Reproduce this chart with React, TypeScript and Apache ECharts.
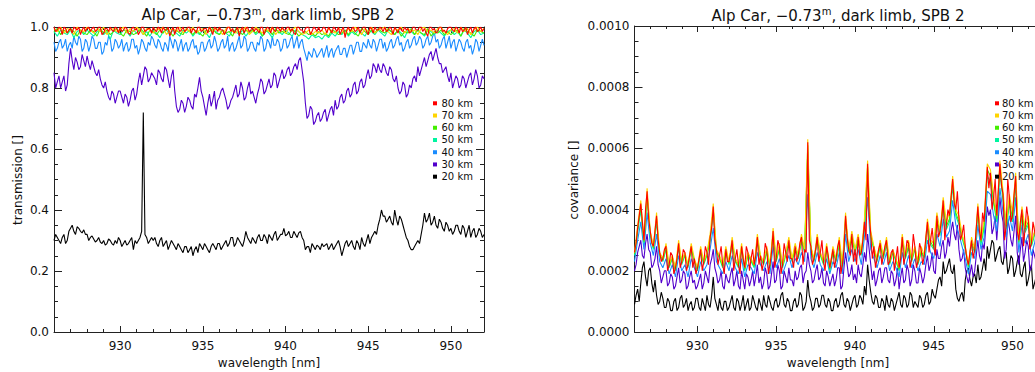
import React, { useEffect, useRef } from "react";
import * as echarts from "echarts";

// ---------- data ----------
// wavelength sampling grids [nm]
const WL_START = 926;
const wavelength = Array.from({ length: 131 }, (_, i) => +(WL_START + i * 0.2).toFixed(1)); // 926.0, 926.2, ...
const wavelengthFine = Array.from({ length: 261 }, (_, i) => +(WL_START + i * 0.1).toFixed(1)); // 926.0, 926.1, ...

const altitudes = ["80 km", "70 km", "60 km", "50 km", "40 km", "30 km", "20 km"];
const altColors = ["#ff0000", "#ffd400", "#44ee00", "#00f5a0", "#1a8cff", "#5200cc", "#000000"];

const xMajorTicks = [930, 935, 940, 945, 950];

// transmission [] at 926.0, 926.2, ... (even samples)
const trans80 = [
  1.0, 0.99, 0.995, 1.0, 0.98, 0.995, 1.0, 0.99, 0.975, 1.0,
  0.995, 0.985, 1.0, 0.99, 1.0, 0.98, 0.995, 1.0, 0.985, 0.995,
  1.0, 0.99, 0.995, 0.975, 1.0, 0.995, 0.985, 1.0, 0.99, 0.995,
  1.0, 0.985, 0.995, 1.0, 0.99, 0.97, 1.0, 0.995, 0.985, 1.0,
  0.99, 1.0, 0.995, 0.98, 1.0, 0.99, 0.995, 1.0, 0.975, 0.995,
  1.0, 0.99, 0.985, 1.0, 0.995, 0.99, 0.97, 1.0, 0.995, 0.985,
  1.0, 0.995, 0.98, 1.0, 0.99, 0.995, 1.0, 0.985, 0.995, 1.0,
  0.99, 1.0, 0.995, 0.975, 1.0, 0.99, 0.995, 1.0, 0.985, 0.995,
  1.0, 0.99, 0.995, 1.0, 0.98, 0.995, 1.0, 0.99, 0.965, 1.0,
  0.995, 0.985, 1.0, 0.99, 1.0, 0.975, 0.995, 1.0, 0.99, 0.995,
  1.0, 0.99, 0.995, 1.0, 0.98, 0.99, 1.0, 0.995, 0.985, 1.0,
  0.99, 1.0, 0.995, 0.97, 1.0, 0.995, 0.985, 1.0, 0.99, 0.995,
  1.0, 0.985, 0.995, 1.0, 0.99, 0.975, 1.0, 0.995, 0.985, 1.0,
  0.995,
];
// transmission [] at 926.1, 926.3, ... (odd samples)
const trans80Odd = [
  0.985, 1.0, 0.975, 0.995, 0.99, 0.98, 0.995, 1.0, 0.99, 0.985,
  1.0, 0.995, 0.985, 1.0, 0.975, 0.995, 0.985, 0.99, 1.0, 0.98,
  0.985, 1.0, 0.98, 0.995, 0.99, 0.975, 1.0, 0.985, 0.995, 0.98,
  0.99, 1.0, 0.98, 0.99, 1.0, 0.985, 0.975, 1.0, 0.99, 0.985,
  1.0, 0.98, 0.99, 1.0, 0.985, 0.995, 0.98, 0.99, 1.0, 0.985,
  0.99, 0.975, 1.0, 0.985, 0.98, 1.0, 0.99, 0.98, 1.0, 0.99,
  0.985, 0.99, 1.0, 0.975, 1.0, 0.98, 0.99, 1.0, 0.985, 0.99,
  1.0, 0.985, 0.98, 1.0, 0.99, 0.98, 1.0, 0.975, 1.0, 0.985,
  0.985, 1.0, 0.98, 0.99, 1.0, 0.985, 0.975, 1.0, 0.99, 0.985,
  1.0, 0.99, 0.98, 1.0, 0.985, 1.0, 0.98, 0.99, 1.0, 0.985,
  0.985, 1.0, 0.975, 0.99, 1.0, 0.985, 0.99, 0.98, 1.0, 0.99,
  1.0, 0.985, 0.98, 1.0, 0.99, 0.98, 1.0, 0.985, 0.98, 1.0,
  0.99, 1.0, 0.98, 0.985, 1.0, 0.99, 0.98, 1.0, 0.99, 0.985,
];
const trans70 = [
  0.995, 0.985, 1.0, 0.98, 0.995, 0.99, 0.975, 1.0, 0.99, 0.985,
  1.0, 0.99, 0.98, 0.995, 0.985, 1.0, 0.975, 0.99, 0.995, 0.985,
  0.99, 1.0, 0.98, 0.995, 0.985, 1.0, 0.99, 0.975, 0.995, 0.99,
  0.98, 0.995, 0.99, 1.0, 0.975, 0.99, 0.995, 0.985, 1.0, 0.98,
  0.995, 0.985, 1.0, 0.98, 0.99, 0.995, 0.975, 1.0, 0.985, 0.995,
  0.99, 0.975, 0.995, 1.0, 0.985, 0.98, 0.995, 0.99, 1.0, 0.975,
  0.985, 1.0, 0.99, 0.98, 0.995, 0.985, 1.0, 0.975, 0.99, 0.995,
  0.98, 0.995, 0.99, 1.0, 0.985, 0.975, 0.98, 0.99, 0.975, 0.985,
  0.98, 0.99, 0.975, 0.995, 0.985, 0.98, 0.995, 0.99, 0.975, 0.995,
  0.985, 1.0, 0.99, 0.975, 0.995, 0.985, 1.0, 0.98, 0.99, 0.995,
  1.0, 0.985, 0.975, 0.995, 0.99, 1.0, 0.98, 0.995, 0.985, 0.99,
  0.975, 0.995, 1.0, 0.985, 0.99, 0.98, 0.995, 1.0, 0.985, 0.975,
  0.99, 0.995, 0.98, 1.0, 0.985, 0.995, 0.975, 0.99, 1.0, 0.985,
  0.995,
];
const trans60 = [
  0.985, 0.995, 0.975, 0.99, 0.98, 0.995, 0.985, 0.97, 0.99, 0.98,
  0.975, 0.99, 0.985, 0.97, 0.995, 0.98, 0.99, 0.975, 0.985, 0.995,
  0.98, 0.97, 0.99, 0.985, 0.975, 0.98, 0.995, 0.985, 0.97, 0.99,
  0.985, 0.975, 0.99, 0.98, 0.995, 0.985, 0.97, 0.99, 0.98, 0.975,
  0.995, 0.985, 0.975, 0.99, 0.98, 0.97, 0.99, 0.985, 0.995, 0.98,
  0.975, 0.99, 0.98, 0.985, 0.97, 0.995, 0.985, 0.975, 0.99, 0.98,
  0.99, 0.98, 0.995, 0.97, 0.985, 0.99, 0.975, 0.995, 0.98, 0.985,
  0.98, 0.975, 0.99, 0.985, 0.97, 0.98, 0.985, 0.975, 0.98, 0.97,
  0.985, 0.975, 0.98, 0.97, 0.99, 0.985, 0.975, 0.98, 0.99, 0.975,
  0.99, 0.98, 0.97, 0.995, 0.985, 0.975, 0.99, 0.98, 0.995, 0.985,
  0.98, 0.995, 0.985, 0.975, 0.99, 0.97, 0.985, 0.98, 0.995, 0.975,
  0.99, 0.98, 0.975, 0.995, 0.97, 0.985, 0.98, 0.99, 0.975, 0.985,
  0.975, 0.985, 0.99, 0.97, 0.995, 0.985, 0.98, 0.97, 0.99, 0.985,
  0.98,
];
const trans50 = [
  0.985, 0.97, 0.99, 0.98, 0.975, 0.99, 0.965, 0.985, 0.99, 0.975,
  0.99, 0.98, 0.97, 0.985, 0.99, 0.975, 0.985, 0.96, 0.99, 0.98,
  0.975, 0.99, 0.985, 0.97, 0.99, 0.98, 0.99, 0.975, 0.985, 0.97,
  0.99, 0.98, 0.965, 0.985, 0.99, 0.975, 0.99, 0.98, 0.97, 0.99,
  0.98, 0.99, 0.97, 0.985, 0.975, 0.99, 0.98, 0.965, 0.99, 0.985,
  0.975, 0.99, 0.98, 0.97, 0.99, 0.985, 0.975, 0.99, 0.97, 0.985,
  0.99, 0.975, 0.985, 0.97, 0.99, 0.98, 0.965, 0.99, 0.985, 0.975,
  0.99, 0.98, 0.97, 0.99, 0.985, 0.975, 0.97, 0.96, 0.975, 0.965,
  0.97, 0.96, 0.975, 0.965, 0.98, 0.97, 0.985, 0.975, 0.99, 0.97,
  0.985, 0.975, 0.99, 0.98, 0.97, 0.99, 0.985, 0.975, 0.99, 0.98,
  0.97, 0.99, 0.985, 0.975, 0.99, 0.98, 0.965, 0.99, 0.985, 0.975,
  0.99, 0.98, 0.97, 0.99, 0.985, 0.975, 0.99, 0.98, 0.97, 0.985,
  0.99, 0.975, 0.985, 0.97, 0.99, 0.98, 0.965, 0.985, 0.99, 0.975,
  0.98,
];
const trans40 = [
  0.95, 0.93, 0.96, 0.94, 0.92, 0.95, 0.97, 0.94, 0.96, 0.93,
  0.95, 0.94, 0.96, 0.93, 0.95, 0.92, 0.94, 0.96, 0.93, 0.95,
  0.94, 0.92, 0.95, 0.93, 0.96, 0.94, 0.93, 0.95, 0.92, 0.94,
  0.96, 0.93, 0.95, 0.92, 0.94, 0.97, 0.93, 0.95, 0.94, 0.92,
  0.95, 0.93, 0.96, 0.94, 0.92, 0.95, 0.93, 0.96, 0.94, 0.95,
  0.93, 0.96, 0.94, 0.92, 0.95, 0.93, 0.97, 0.94, 0.96, 0.93,
  0.95, 0.92, 0.94, 0.96, 0.93, 0.95, 0.97, 0.94, 0.95, 0.93,
  0.96, 0.94, 0.97, 0.95, 0.93, 0.96, 0.91, 0.92, 0.90, 0.92,
  0.91, 0.93, 0.92, 0.90, 0.93, 0.92, 0.94, 0.91, 0.93, 0.92,
  0.94, 0.93, 0.95, 0.92, 0.94, 0.96, 0.93, 0.95, 0.94, 0.96,
  0.95, 0.93, 0.96, 0.94, 0.97, 0.95, 0.93, 0.96, 0.94, 0.97,
  0.95, 0.96, 0.94, 0.97, 0.95, 0.98, 0.96, 0.94, 0.97, 0.95,
  0.93, 0.96, 0.94, 0.95, 0.92, 0.96, 0.94, 0.93, 0.95, 0.94,
  0.94,
];
const trans40Odd = [
  0.92, 0.95, 0.93, 0.96, 0.94, 0.93, 0.95, 0.97, 0.92, 0.96,
  0.92, 0.97, 0.93, 0.95, 0.91, 0.95, 0.97, 0.92, 0.96, 0.93,
  0.96, 0.94, 0.92, 0.96, 0.93, 0.91, 0.96, 0.93, 0.95, 0.97,
  0.94, 0.96, 0.93, 0.95, 0.92, 0.95, 0.96, 0.92, 0.96, 0.94,
  0.92, 0.95, 0.93, 0.91, 0.95, 0.92, 0.95, 0.93, 0.97, 0.92,
  0.95, 0.93, 0.97, 0.94, 0.92, 0.95, 0.93, 0.97, 0.92, 0.95,
  0.93, 0.95, 0.97, 0.92, 0.96, 0.93, 0.94, 0.96, 0.92, 0.96,
  0.93, 0.96, 0.93, 0.97, 0.95, 0.93, 0.89, 0.91, 0.93, 0.90,
  0.92, 0.90, 0.94, 0.92, 0.90, 0.93, 0.91, 0.93, 0.90, 0.94,
  0.91, 0.95, 0.92, 0.95, 0.93, 0.94, 0.96, 0.92, 0.96, 0.93,
  0.92, 0.95, 0.93, 0.96, 0.94, 0.92, 0.95, 0.93, 0.96, 0.94,
  0.97, 0.93, 0.96, 0.94, 0.97, 0.95, 0.93, 0.96, 0.93, 0.97,
  0.95, 0.92, 0.96, 0.93, 0.95, 0.93, 0.91, 0.96, 0.92, 0.96,
];
const trans30 = [
  0.85, 0.82, 0.80, 0.84, 0.81, 0.93, 0.86, 0.885, 0.87, 0.89,
  0.905, 0.86, 0.87, 0.84, 0.83, 0.80, 0.79, 0.76, 0.78, 0.77,
  0.79, 0.75, 0.77, 0.76, 0.80, 0.78, 0.85, 0.84, 0.86, 0.83,
  0.84, 0.81, 0.85, 0.82, 0.86, 0.80, 0.86, 0.74, 0.73, 0.75,
  0.74, 0.76, 0.73, 0.77, 0.835, 0.77, 0.71, 0.78, 0.76, 0.73,
  0.77, 0.80, 0.76, 0.74, 0.77, 0.81, 0.78, 0.80, 0.77, 0.82,
  0.79, 0.75, 0.80, 0.82, 0.79, 0.83, 0.81, 0.84, 0.82, 0.86,
  0.84, 0.87, 0.85, 0.88, 0.89, 0.86, 0.75, 0.71, 0.73, 0.69,
  0.72, 0.70, 0.73, 0.71, 0.74, 0.76, 0.74, 0.78, 0.76, 0.80,
  0.78, 0.82, 0.79, 0.83, 0.81, 0.86, 0.84, 0.87, 0.88, 0.85,
  0.87, 0.84, 0.86, 0.82, 0.80, 0.79, 0.81, 0.78, 0.80, 0.84,
  0.87, 0.86, 0.90, 0.89, 0.92, 0.91, 0.90, 0.88, 0.86, 0.84,
  0.85, 0.82, 0.83, 0.81, 0.83, 0.82, 0.85, 0.83, 0.84, 0.81,
  0.83,
];
const trans30Odd = [
  0.80, 0.84, 0.82, 0.79, 0.88, 0.89, 0.90, 0.86, 0.91, 0.87,
  0.88, 0.89, 0.85, 0.86, 0.81, 0.82, 0.77, 0.79, 0.75, 0.79,
  0.77, 0.78, 0.74, 0.79, 0.76, 0.82, 0.81, 0.87, 0.82, 0.85,
  0.83, 0.86, 0.83, 0.87, 0.83, 0.84, 0.79, 0.72, 0.76, 0.72,
  0.77, 0.74, 0.78, 0.80, 0.79, 0.74, 0.75, 0.74, 0.79, 0.76,
  0.79, 0.78, 0.73, 0.76, 0.79, 0.77, 0.82, 0.76, 0.80, 0.78,
  0.77, 0.78, 0.83, 0.78, 0.81, 0.80, 0.85, 0.80, 0.84, 0.83,
  0.86, 0.84, 0.87, 0.86, 0.90, 0.82, 0.70, 0.74, 0.68, 0.71,
  0.69, 0.72, 0.69, 0.73, 0.71, 0.73, 0.77, 0.75, 0.79, 0.77,
  0.81, 0.78, 0.82, 0.80, 0.84, 0.83, 0.88, 0.85, 0.86, 0.88,
  0.85, 0.87, 0.83, 0.84, 0.78, 0.82, 0.77, 0.81, 0.83, 0.82,
  0.84, 0.88, 0.87, 0.91, 0.89, 0.93, 0.88, 0.85, 0.87, 0.82,
  0.80, 0.84, 0.80, 0.84, 0.80, 0.84, 0.81, 0.86, 0.80, 0.84,
];
const trans20 = [
  0.30, 0.31, 0.29, 0.32, 0.30, 0.34, 0.33, 0.345, 0.33, 0.335,
  0.32, 0.31, 0.305, 0.30, 0.295, 0.30, 0.29, 0.30, 0.285, 0.29,
  0.30, 0.29, 0.285, 0.30, 0.27, 0.29, 0.31, 0.72, 0.31, 0.30,
  0.30, 0.29, 0.30, 0.28, 0.30, 0.285, 0.29, 0.27, 0.28, 0.26,
  0.28, 0.27, 0.25, 0.28, 0.29, 0.27, 0.28, 0.26, 0.29, 0.27,
  0.29, 0.28, 0.30, 0.29, 0.31, 0.29, 0.30, 0.28, 0.33, 0.30,
  0.31, 0.29, 0.32, 0.30, 0.31, 0.32, 0.30, 0.33, 0.31, 0.32,
  0.315, 0.33, 0.31, 0.32, 0.325, 0.31, 0.27, 0.28, 0.29, 0.27,
  0.28, 0.29, 0.285, 0.27, 0.29, 0.28, 0.30, 0.25, 0.29, 0.28,
  0.30, 0.27, 0.29, 0.31, 0.28, 0.32, 0.31, 0.33, 0.35, 0.40,
  0.38, 0.37, 0.36, 0.40, 0.35, 0.37, 0.33, 0.30, 0.27, 0.28,
  0.30, 0.32, 0.39, 0.37, 0.35, 0.38, 0.34, 0.36, 0.33, 0.35,
  0.34, 0.33, 0.35, 0.32, 0.34, 0.33, 0.31, 0.34, 0.32, 0.33,
  0.32,
];
const trans20Odd = [
  0.32, 0.30, 0.31, 0.29, 0.33, 0.35, 0.32, 0.34, 0.325, 0.32,
  0.30, 0.315, 0.295, 0.31, 0.29, 0.285, 0.305, 0.29, 0.30, 0.31,
  0.28, 0.30, 0.29, 0.31, 0.30, 0.30, 0.33, 0.32, 0.29, 0.31,
  0.31, 0.28, 0.31, 0.29, 0.27, 0.30, 0.28, 0.29, 0.27, 0.28,
  0.26, 0.28, 0.27, 0.26, 0.28, 0.29, 0.27, 0.28, 0.28, 0.29,
  0.27, 0.29, 0.28, 0.31, 0.28, 0.31, 0.29, 0.30, 0.31, 0.29,
  0.30, 0.31, 0.30, 0.32, 0.29, 0.31, 0.32, 0.30, 0.32, 0.34,
  0.32, 0.31, 0.33, 0.31, 0.33, 0.30, 0.28, 0.26, 0.28, 0.285,
  0.27, 0.28, 0.29, 0.28, 0.27, 0.29, 0.28, 0.27, 0.30, 0.29,
  0.28, 0.30, 0.27, 0.29, 0.30, 0.29, 0.32, 0.32, 0.37, 0.38,
  0.36, 0.38, 0.35, 0.37, 0.38, 0.35, 0.31, 0.28, 0.27, 0.29,
  0.29, 0.35, 0.36, 0.39, 0.36, 0.35, 0.37, 0.34, 0.36, 0.33,
  0.32, 0.35, 0.33, 0.35, 0.31, 0.35, 0.33, 0.31, 0.34, 0.31,
];

// covariance [], in units of COV_UNIT
const COV_UNIT = 1e-5;
const cov80 = [
  26, 34, 42, 30, 46, 33, 28, 38, 26, 24,
  28, 22, 25, 21, 29, 23, 26, 22, 28, 24,
  21, 27, 23, 26, 31, 41, 27, 25, 22, 27,
  23, 30, 24, 22, 28, 21, 26, 24, 22, 31,
  25, 23, 27, 22, 33, 24, 28, 22, 26, 30,
  24, 28, 25, 31, 27, 62, 28, 24, 31, 26,
  23, 28, 21, 27, 24, 30, 22, 38, 27, 32,
  27, 31, 26, 36, 55, 32, 28, 24, 29, 25,
  30, 23, 27, 24, 21, 31, 25, 29, 24, 28,
  23, 27, 25, 36, 30, 28, 38, 33, 43, 35,
  38, 50, 40, 37, 32, 28, 22, 30, 27, 41,
  30, 36, 54, 52, 44, 38, 55, 45, 35, 44,
  38, 51, 30, 40, 34, 37, 29, 33, 40, 29,
  34,
];
const cov80Odd = [
  29, 38, 36, 40, 37, 29, 33, 30, 23, 27,
  20, 26, 19, 24, 21, 27, 20, 25, 21, 19,
  24, 20, 28, 22, 34, 30, 22, 28, 19, 23,
  26, 20, 27, 19, 24, 28, 20, 27, 25, 22,
  20, 29, 19, 26, 21, 30, 19, 29, 23, 24,
  21, 23, 29, 22, 26, 30, 22, 27, 23, 30,
  20, 25, 24, 21, 28, 19, 27, 31, 25, 23,
  22, 25, 30, 30, 38, 24, 21, 27, 22, 28,
  22, 26, 20, 28, 24, 22, 30, 21, 32, 21,
  29, 22, 31, 26, 34, 25, 31, 37, 30, 40,
  44, 42, 46, 30, 35, 24, 26, 24, 34, 33,
  39, 45, 47, 40, 50, 46, 48, 30, 50, 36,
  45, 33, 36, 28, 41, 27, 36, 30, 34, 36,
];
const cov70 = [
  26, 35, 43, 30, 47, 33, 28, 39, 26, 24,
  29, 22, 25, 21, 30, 23, 26, 22, 29, 24,
  21, 28, 23, 26, 32, 42, 27, 25, 22, 28,
  23, 31, 24, 22, 29, 21, 26, 24, 22, 32,
  25, 23, 28, 22, 34, 24, 29, 22, 26, 31,
  24, 29, 25, 32, 27, 63, 28, 24, 32, 26,
  23, 29, 21, 28, 24, 31, 22, 39, 27, 33,
  27, 32, 26, 37, 56, 33, 28, 24, 30, 25,
  31, 23, 27, 24, 21, 32, 25, 30, 24, 28,
  23, 28, 25, 37, 30, 29, 39, 33, 44, 36,
  39, 51, 40, 38, 32, 28, 22, 31, 27, 42,
  30, 37, 55, 53, 45, 38, 56, 46, 35, 45,
  39, 52, 30, 41, 34, 38, 29, 33, 41, 29,
  34,
];
const cov60 = [
  25.5, 33.5, 41, 29.5, 45, 32.5, 27.5, 37, 25.5, 23.5,
  27.5, 21.5, 24.5, 20.5, 28.5, 22.5, 25.5, 21.5, 27.5, 23.5,
  20.5, 26.5, 22.5, 25.5, 30.5, 40, 26.5, 24.5, 21.5, 26.5,
  22.5, 29.5, 23.5, 21.5, 27.5, 20.5, 25.5, 23.5, 21.5, 30.5,
  24.5, 22.5, 26.5, 21.5, 32.5, 23.5, 27.5, 21.5, 25.5, 29.5,
  23.5, 27.5, 24.5, 30.5, 26.5, 61, 27.5, 23.5, 30.5, 25.5,
  22.5, 27.5, 20.5, 26.5, 23.5, 29.5, 21.5, 37, 26.5, 31.5,
  26.5, 30.5, 25.5, 35, 54, 31.5, 27.5, 23.5, 28.5, 24.5,
  29.5, 22.5, 26.5, 23.5, 20.5, 30.5, 24.5, 28.5, 23.5, 27.5,
  22.5, 26.5, 24.5, 35, 29.5, 27.5, 37, 32.5, 42, 34.5,
  37, 49, 39, 36, 31.5, 27.5, 21.5, 29.5, 26.5, 40,
  29.5, 35, 53, 51, 43, 37, 54, 44, 34.5, 43,
  37, 50, 29.5, 39, 33.5, 36, 28.5, 32.5, 39, 28.5,
  33.5,
];
const cov50 = [
  25, 32.5, 40, 29, 44, 31.5, 27, 36, 25, 23,
  27, 21, 24, 20, 27.5, 22, 25, 21, 27, 23,
  20, 26, 22, 25, 29.5, 39, 26, 24, 21, 26,
  22, 28.5, 23, 21, 27, 20, 25, 23, 21, 29.5,
  24, 22, 26, 21, 31.5, 23, 27, 21, 25, 28.5,
  23, 27, 24, 29.5, 26, 59, 27, 23, 29.5, 25,
  22, 27, 20, 26, 23, 28.5, 21, 36, 26, 30.5,
  26, 29.5, 25, 34, 52, 30.5, 27, 23, 28, 24,
  28.5, 22, 26, 23, 20, 29.5, 24, 27.5, 23, 27,
  22, 26, 24, 34, 28.5, 27, 36, 31.5, 41, 33.5,
  36, 47.5, 38, 35, 30.5, 27, 21, 28.5, 26, 39,
  28.5, 34, 51, 49, 42, 36, 52, 43, 33.5, 42,
  36, 48.5, 29, 38, 32.5, 35, 28, 31.5, 38, 28,
  32.5,
];
const cov40 = [
  23, 30, 36, 27, 39, 29, 25, 32, 23, 21,
  24, 19, 22, 18, 25, 20, 22, 18, 24, 21,
  18, 23, 20, 22, 27, 34, 23, 21, 19, 23,
  20, 25, 21, 19, 24, 18, 22, 21, 19, 26,
  22, 20, 23, 19, 28, 21, 24, 19, 22, 25,
  21, 24, 22, 26, 23, 45, 24, 21, 26, 22,
  20, 24, 19, 23, 21, 26, 19, 32, 23, 27,
  23, 27, 22, 31, 44, 27, 24, 21, 25, 22,
  26, 20, 23, 21, 18, 26, 21, 25, 21, 24,
  20, 23, 22, 30, 26, 24, 32, 28, 37, 31,
  33, 43, 35, 32, 28, 24, 19, 26, 24, 35,
  27, 31, 46, 45, 38, 33, 47, 39, 31, 38,
  33, 44, 26, 35, 29, 32, 25, 29, 35, 26,
  30,
];
const cov30 = [
  20, 26, 30, 24, 32, 26, 22, 28, 20, 18,
  20, 16, 18, 15, 21, 17, 19, 15, 20, 17,
  15, 19, 16, 18, 22, 27, 19, 17, 15, 19,
  16, 21, 17, 15, 20, 14, 18, 17, 15, 22,
  18, 16, 19, 15, 23, 17, 20, 15, 18, 21,
  17, 20, 18, 22, 19, 26, 20, 17, 22, 18,
  16, 20, 15, 19, 17, 21, 15, 26, 18, 22,
  19, 22, 18, 26, 32, 22, 20, 17, 21, 18,
  21, 16, 19, 17, 14, 21, 17, 20, 17, 20,
  16, 19, 18, 25, 22, 20, 27, 24, 30, 26,
  28, 36, 30, 27, 24, 21, 16, 22, 20, 30,
  23, 27, 41, 40, 34, 30, 44, 36, 27, 34,
  28, 38, 22, 31, 26, 28, 21, 25, 30, 22,
  26,
];
const cov30Odd = [
  22, 28, 25, 29, 27, 21, 24, 22, 16, 20,
  15, 19, 14, 18, 16, 20, 14, 18, 16, 14,
  17, 14, 20, 16, 24, 21, 16, 20, 14, 17,
  19, 15, 20, 14, 17, 19, 15, 20, 18, 16,
  14, 21, 14, 19, 16, 22, 14, 20, 16, 17,
  15, 17, 21, 16, 20, 22, 16, 20, 17, 21,
  15, 18, 17, 15, 21, 14, 21, 22, 19, 17,
  16, 19, 22, 23, 27, 17, 15, 20, 16, 21,
  17, 20, 15, 21, 18, 16, 22, 15, 22, 16,
  21, 16, 22, 20, 26, 19, 24, 28, 24, 31,
  33, 32, 35, 23, 27, 18, 19, 18, 25, 25,
  29, 34, 38, 32, 38, 37, 39, 24, 37, 30,
  33, 26, 27, 23, 30, 20, 27, 23, 27, 25,
];
const cov20 = [
  9, 14, 16, 23, 15, 21, 13, 12, 10, 11,
  8, 10, 7, 11, 8, 12, 9, 7, 10, 8,
  11, 7, 9, 12, 8, 18, 9, 11, 7, 10,
  8, 12, 7, 10, 9, 7, 11, 8, 10, 7,
  9, 12, 8, 10, 7, 11, 9, 13, 8, 10,
  7, 11, 9, 12, 8, 17, 10, 8, 11, 9,
  12, 8, 10, 7, 11, 9, 13, 8, 10, 9,
  12, 9, 11, 15, 22, 13, 9, 11, 8, 10,
  12, 8, 10, 9, 13, 8, 11, 9, 12, 10,
  8, 11, 9, 13, 10, 12, 14, 18, 23, 20,
  24, 19, 14, 10, 13, 17, 21, 15, 19, 22,
  18, 24, 28, 27, 29, 25, 28, 22, 26, 21,
  24, 20, 25, 18, 23, 17, 22, 16, 19, 14,
  15,
];
const cov20Odd = [
  12, 10, 21, 18, 20, 16, 17, 9, 13, 8,
  11, 7, 10, 7, 11, 8, 11, 9, 7, 11,
  8, 11, 7, 9, 12, 11, 7, 8, 10, 7,
  10, 8, 11, 7, 12, 9, 7, 12, 8, 11,
  7, 9, 12, 8, 10, 8, 12, 9, 11, 7,
  10, 8, 13, 7, 10, 12, 7, 11, 8, 12,
  9, 11, 7, 10, 8, 12, 9, 11, 7, 11,
  8, 12, 9, 12, 17, 10, 12, 8, 11, 7,
  9, 11, 7, 11, 9, 12, 8, 13, 8, 9,
  12, 8, 12, 9, 14, 11, 17, 15, 19, 22,
  20, 22, 11, 12, 10, 20, 17, 18, 16, 17,
  21, 20, 24, 30, 23, 27, 23, 26, 19, 25,
  18, 23, 19, 21, 15, 20, 14, 18, 12, 17,
];

// merge even (x.0, x.2, ...) and odd (x.1, x.3, ...) samples into one 0.1 nm sequence
function mergeSamples(even: number[], odd: number[]) {
  const out: number[] = [];
  even.forEach((v, i) => {
    out.push(v);
    if (i < odd.length) out.push(odd[i]);
  });
  return out;
}

const transSets = [
  mergeSamples(trans80, trans80Odd),
  trans70,
  trans60,
  trans50,
  mergeSamples(trans40, trans40Odd),
  mergeSamples(trans30, trans30Odd),
  mergeSamples(trans20, trans20Odd),
];
const covSets = [
  mergeSamples(cov80, cov80Odd),
  cov70,
  cov60,
  cov50,
  cov40,
  mergeSamples(cov30, cov30Odd),
  mergeSamples(cov20, cov20Odd),
];

// ---------- styling ----------
const FONT = "DejaVu Sans";
const INK = "#111";
const AX = { color: "#222", width: 1 };

const G = [
  { left: 54, top: 27, width: 430, height: 305 },
  { left: 634.5, top: 26, width: 409.5, height: 306 },
];

function xAxesFor(grid: number) {
  const base = {
    type: "value",
    gridIndex: grid,
    min: 926,
    max: 952,
    interval: 1,
    splitLine: { show: false },
  };
  return [
    {
      ...base,
      position: "bottom",
      axisLine: { show: true, onZero: false, lineStyle: AX },
      axisTick: { show: true, inside: true, length: 3, lineStyle: AX },
      axisLabel: {
        show: true,
        margin: 8,
        color: INK,
        fontFamily: FONT,
        fontSize: 12,
        formatter: (v: number) => {
          const r = Math.round(v);
          return Math.abs(v - r) < 1e-6 && r % 5 === 0 ? String(r) : "";
        },
      },
    },
    {
      ...base,
      position: "bottom",
      axisLine: { show: false, onZero: false },
      axisTick: { show: true, inside: true, length: 6, lineStyle: AX, customValues: xMajorTicks },
      axisLabel: { show: false },
    },
    {
      ...base,
      position: "top",
      axisLine: { show: true, onZero: false, lineStyle: AX },
      axisTick: { show: true, inside: true, length: 3, lineStyle: AX },
      axisLabel: { show: false },
    },
    {
      ...base,
      position: "top",
      axisLine: { show: false, onZero: false },
      axisTick: { show: true, inside: true, length: 6, lineStyle: AX, customValues: xMajorTicks },
      axisLabel: { show: false },
    },
  ];
}

function yAxesFor(grid: number, max: number, interval: number, digits: number) {
  const base = {
    type: "value",
    gridIndex: grid,
    min: 0,
    max,
    interval,
    splitLine: { show: false },
    axisLine: { show: true, onZero: false, lineStyle: AX },
    axisTick: { show: true, inside: true, length: 8, lineStyle: AX },
    minorTick: { show: true, splitNumber: 4, length: 4, lineStyle: AX },
  };
  return [
    {
      ...base,
      position: "left",
      axisLabel: {
        show: true,
        margin: 5,
        color: INK,
        fontFamily: FONT,
        fontSize: 12,
        formatter: (v: number) => v.toFixed(digits),
      },
    },
    { ...base, position: "right", axisLabel: { show: false } },
  ];
}

function seriesFor(grid: number, sets: number[][], scale: number) {
  // draw 20 km first, 80 km last (on top)
  const order = [6, 5, 4, 3, 2, 1, 0];
  return order.map((k) => {
    const values = sets[k];
    const xs = values.length === wavelengthFine.length ? wavelengthFine : wavelength;
    return {
      type: "line",
      name: altitudes[k],
      xAxisIndex: grid * 4,
      yAxisIndex: grid * 2,
      data: xs.map((w, i) => [w, values[i] * scale]),
      symbol: "none",
      showSymbol: false,
      silent: true,
      clip: true,
      lineStyle: { width: 1.1, color: altColors[k] },
      itemStyle: { color: altColors[k] },
    };
  });
}

function legendFor(squareX: number, textX: number) {
  const els: any[] = [];
  altitudes.forEach((name, k) => {
    const y = 103.3 + k * 12.23;
    els.push({
      type: "rect",
      shape: { x: squareX, y: y - 2, width: 4, height: 4 },
      style: { fill: altColors[k] },
      z: 10,
    });
    els.push({
      type: "text",
      x: textX,
      y,
      z: 10,
      style: {
        text: name,
        fontFamily: FONT,
        fontSize: 10,
        fill: INK,
        align: "left",
        verticalAlign: "middle",
      },
    });
  });
  return els;
}

function titleAt(x: number, y: number) {
  return {
    type: "text",
    x,
    y,
    z: 10,
    style: {
      text: "{n|Alp Car, −0.73}{s|m}{n|, dark limb, SPB 2}",
      rich: {
        n: { fontFamily: FONT, fontSize: 15, lineHeight: 18, fill: INK },
        s: { fontFamily: FONT, fontSize: 10, lineHeight: 10, verticalAlign: "top", fill: INK },
      },
      align: "center",
      verticalAlign: "middle",
    },
  };
}

function plainText(text: string, x: number, y: number, rotation = 0) {
  return {
    type: "text",
    x,
    y,
    rotation,
    z: 10,
    style: {
      text,
      fontFamily: FONT,
      fontSize: 12,
      fill: INK,
      align: "center",
      verticalAlign: "middle",
    },
  };
}

export default function App() {
  const ref = useRef<HTMLDivElement>(null);

  useEffect(() => {
    if (!ref.current) return;
    const chart = echarts.init(ref.current, undefined, { renderer: "svg" });
    const option: any = {
      animation: false,
      backgroundColor: "#ffffff",
      grid: G.map((g) => ({ ...g, containLabel: false, outerBoundsMode: "none" })),
      xAxis: [...xAxesFor(0), ...xAxesFor(1)],
      yAxis: [...yAxesFor(0, 1, 0.2, 1), ...yAxesFor(1, 0.001, 0.0002, 4)],
      series: [...seriesFor(0, transSets, 1), ...seriesFor(1, covSets, COV_UNIT)],
      graphic: {
        elements: [
          titleAt(268, 15),
          titleAt(838, 15.5),
          plainText("transmission []", 17.5, 180, Math.PI / 2),
          plainText("covariance []", 574, 180, Math.PI / 2),
          plainText("wavelength [nm]", 269, 363),
          plainText("wavelength [nm]", 838, 363),
          ...legendFor(433, 441.5),
          ...legendFor(995, 1002),
        ],
      },
    };
    chart.setOption(option);
    return () => chart.dispose();
  }, []);

  return (
    <div
      ref={ref}
      style={{ position: "absolute", left: 0, top: 0, width: 1035, height: 372, overflow: "hidden" }}
    />
  );
}
